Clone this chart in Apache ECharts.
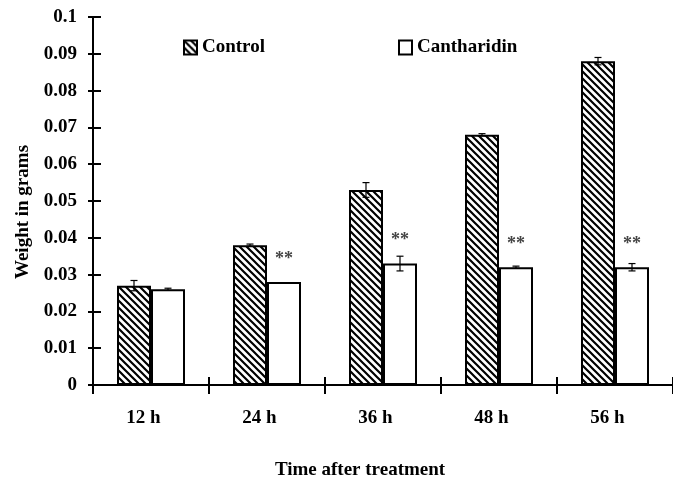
<!DOCTYPE html>
<html>
<head>
<meta charset="utf-8">
<script src="https://cdn.jsdelivr.net/npm/echarts@6/dist/echarts.min.js"></script>
<style>
html,body{margin:0;padding:0;background:#fff;}
#chart{width:673px;height:481px;}
</style>
</head>
<body>
<div id="chart"></div>
<script>
const categories = ['12 h', '24 h', '36 h', '48 h', '56 h'];
const controlValues = [0.027, 0.038, 0.053, 0.068, 0.088];
const cantharidinValues = [0.026, 0.028, 0.033, 0.032, 0.032];
const controlErrors = [0.0014, 0.0003, 0.002, 0.0003, 0.001];
const cantharidinErrors = [0.0003, 0, 0.002, 0.0003, 0.001];
const significance = ['', '**', '**', '**', '**'];
const yMin = 0, yMax = 0.1, yInterval = 0.01;

const FONT = "'Liberation Serif', 'Times New Roman', serif";
const BAR_W = 34;

// hatch pattern "\\\"
function makeHatch() {
  const s = 7;
  const c = document.createElement('canvas');
  c.width = s; c.height = s;
  const g = c.getContext('2d');
  g.fillStyle = '#fff';
  g.fillRect(0, 0, s, s);
  g.strokeStyle = '#000';
  g.lineWidth = 2.2;
  g.beginPath();
  g.moveTo(-1, -1); g.lineTo(s + 1, s + 1);
  g.moveTo(-s - 1, -1); g.lineTo(1, s + 1);
  g.moveTo(s - 1, -1); g.lineTo(2 * s + 1, s + 1);
  g.stroke();
  return c;
}
const hatch = makeHatch();

const chart = echarts.init(document.getElementById('chart'), null, {renderer: 'canvas'});

function errorSeries(name, values, errors, side) {
  return {
    type: 'custom',
    name: name + ' error',
    xAxisIndex: 0,
    yAxisIndex: 0,
    z: 10,
    silent: true,
    data: values.map((v, i) => [i, v, errors[i]]),
    encode: {x: 0, y: 1},
    renderItem: function (params, api) {
      const i = api.value(0), v = api.value(1), e = api.value(2);
      if (!e) return null;
      const top = api.coord([i, v + e]);
      const bot = api.coord([i, v - e]);
      const x = top[0] + side * BAR_W / 2;
      const style = {stroke: '#000', lineWidth: 1.2};
      return {
        type: 'group',
        children: [
          {type: 'line', shape: {x1: x, y1: top[1], x2: x, y2: bot[1]}, style: style},
          {type: 'line', shape: {x1: x - 3.5, y1: top[1], x2: x + 3.5, y2: top[1]}, style: style},
          {type: 'line', shape: {x1: x - 3.5, y1: bot[1], x2: x + 3.5, y2: bot[1]}, style: style}
        ]
      };
    }
  };
}

const textBase = {fontFamily: FONT, fontWeight: 'bold', color: '#000', fontSize: 19};

const option = {
  animation: false,
  backgroundColor: '#fff',
  grid: {left: 93, top: 17, bottom: 96, right: -8, containLabel: false},
  legend: [
    {data: ['Control'], left: 183, top: 38, padding: 0, itemWidth: 13, itemHeight: 14, icon: 'rect',
     textStyle: Object.assign({}, textBase)},
    {data: ['Cantharidin'], left: 398, top: 38, padding: 0, itemWidth: 13, itemHeight: 14, icon: 'rect',
     textStyle: Object.assign({}, textBase)}
  ],
  xAxis: [
    {
      type: 'category', data: categories, position: 'bottom',
      axisLine: {show: true, lineStyle: {color: '#000', width: 2}},
      axisTick: {show: true, inside: false, length: 9, lineStyle: {color: '#000', width: 2}},
      axisLabel: Object.assign({margin: 24, padding: [0, 15, 0, 0]}, textBase),
      splitLine: {show: false}
    },
    {
      type: 'category', data: categories, position: 'bottom',
      axisLine: {show: false},
      axisTick: {show: true, inside: true, length: 8, lineStyle: {color: '#000', width: 2}},
      axisLabel: {show: false},
      splitLine: {show: false}
    }
  ],
  yAxis: [
    {
      type: 'value', min: yMin, max: yMax, interval: yInterval, position: 'left',
      axisLine: {show: true, lineStyle: {color: '#000', width: 2}},
      axisTick: {show: true, inside: false, length: 5, lineStyle: {color: '#000', width: 2}},
      axisLabel: Object.assign({margin: 16, formatter: v => String(+v.toFixed(2))}, textBase),
      splitLine: {show: false}
    },
    {
      type: 'value', min: yMin, max: yMax, interval: yInterval, position: 'left',
      axisLine: {show: false},
      axisTick: {show: true, inside: true, length: 8, lineStyle: {color: '#000', width: 2}},
      axisLabel: {show: false},
      splitLine: {show: false}
    }
  ],
  series: [
    {
      name: 'Control', type: 'bar', xAxisIndex: 0, yAxisIndex: 0,
      barWidth: BAR_W, barGap: '0%',
      itemStyle: {color: {image: hatch, repeat: 'repeat'}, borderColor: '#000', borderWidth: 2},
      data: controlValues
    },
    {
      name: 'Cantharidin', type: 'bar', xAxisIndex: 0, yAxisIndex: 0,
      barWidth: BAR_W, barGap: '0%',
      itemStyle: {color: '#fff', borderColor: '#000', borderWidth: 2},
      label: {show: false},
      data: cantharidinValues.map((v, i) => ({
        value: v,
        label: {
          show: significance[i] !== '',
          position: 'top',
          distance: 14,
          formatter: significance[i],
          fontFamily: FONT,
          fontWeight: 'bold',
          fontSize: 18,
          color: '#444'
        }
      }))
    },
    errorSeries('Control', controlValues, controlErrors, -1),
    errorSeries('Cantharidin', cantharidinValues, cantharidinErrors, 1)
  ],
  graphic: [
    {type: 'text', x: 23, y: 212, rotation: Math.PI / 2,
     style: {text: 'Weight in grams', align: 'center', verticalAlign: 'middle', fill: '#000',
       font: "bold 19px " + FONT}},
    {type: 'text', x: 360, y: 470,
     style: {text: 'Time after treatment', align: 'center', verticalAlign: 'middle', fill: '#000',
       font: "bold 19px " + FONT}}
  ]
};
chart.setOption(option);
</script>
</body>
</html>
